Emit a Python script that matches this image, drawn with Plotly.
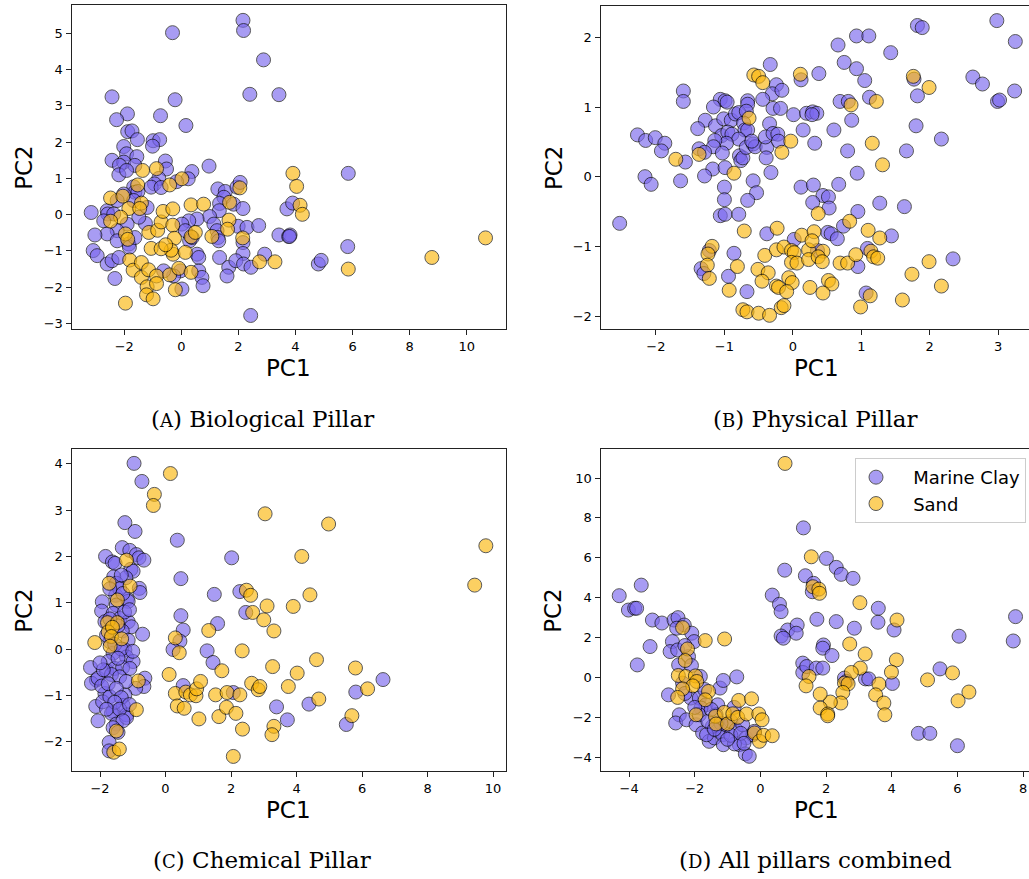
import plotly.graph_objects as go

# ---------------- data (PC1, PC2) ----------------
bio_clay = [(2.16,5.36),(2.18,5.08),(-0.31,5.02),(2.88,4.27),(-2.43,3.25),(2.40,3.32),(3.42,3.31),(-0.22,3.17),(-1.89,2.78),(-2.27,2.62),(-0.73,2.73),(0.16,2.46),(-1.88,2.29),(-1.73,2.31),(-1.54,2.07),(-0.99,2.04),(-0.76,2.07),(-1.01,1.89),(-2.02,1.88),(-1.92,1.68),(-1.56,1.60),(-2.43,1.50),(-2.02,1.45),(-2.17,1.36),(-1.63,1.36),(-0.56,1.48),(-0.52,1.26),(-2.19,1.10),(-1.92,1.22),(0.97,1.34),(0.37,1.19),(0.24,0.99),(-0.79,1.00),(-0.94,0.85),(-1.06,0.76),(-0.71,0.75),(-0.17,0.91),(-1.67,0.77),(-1.63,0.62),(-1.52,0.64),(-2.02,0.57),(-2.25,0.39),(-2.60,0.11),(-2.58,0.02),(-2.37,0.02),(-2.72,-0.17),(-3.16,0.06),
            (1.28,0.71),(1.54,0.64),(1.49,0.48),(1.34,0.31),(1.33,0.11),(0.99,-0.05),(1.14,-0.26),(1.25,-0.44),(1.28,-0.63),(1.31,-0.72),(1.34,-1.18),(1.66,-1.45),(1.60,-1.69),(1.95,0.76),(2.06,0.89),(1.83,0.29),(2.16,0.17),(1.99,-0.32),(2.30,-0.35),(2.71,-0.30),(2.16,-0.77),(2.16,-1.07),(1.91,-1.27),(2.18,-1.36),(2.44,-1.45),(2.92,-1.09),(3.42,-0.56),(3.70,0.16),(3.76,-0.60),(2.43,-2.78),(0.55,-0.12),(0.26,-0.17),(0.02,-0.26),(0.14,-0.44),(0.29,-0.72),(0.38,-0.63),(0.55,-1.09),(0.61,-1.18),(0.61,-1.55),(0.72,-1.73),(0.76,-1.96),(0.02,-2.05),(-0.03,-1.55),(-0.27,-1.69),(-0.62,-1.55),(-1.26,-0.24),(-1.49,-0.07),(-1.90,-0.26),(-2.25,-0.44),(-2.60,-0.53),(-3.03,-0.56),(-3.09,-0.99),(-2.95,-1.13),(-2.60,-1.36),(-2.43,-1.27),(-2.19,-1.18),(-2.33,-1.76),(-1.84,-0.81),(-1.82,-0.90),(-2.25,-0.72),(-1.67,0.39),(-1.63,-0.63),(-1.20,0.20),
            (3.90,0.32),(3.81,-0.56),(3.79,-0.60),(5.85,1.14),(5.83,-0.88),(4.80,-1.36),(4.90,-1.26)]
bio_sand = [(-1.36,1.22),(-0.87,1.27),(-0.41,0.82),(0.02,0.99),(-1.53,0.82),(-2.48,0.46),(-2.05,0.51),(-1.40,0.32),(-1.84,0.17),(-1.46,0.17),(-2.13,-0.07),(-2.48,-0.18),(-1.96,-0.53),(-1.88,-0.68),(-1.14,-0.49),(-0.83,-0.43),(-0.71,-0.20),(-0.64,0.09),(-0.30,0.16),(0.34,0.27),(0.78,0.29),(1.69,0.34),(2.05,0.74),(1.67,-0.15),(1.62,-0.40),(1.07,-0.60),(0.34,-0.61),(0.49,-0.49),(-0.30,-0.29),(-0.24,-0.65),(-0.29,-1.09),(-0.36,-0.98),(0.14,-1.04),(-1.06,-0.93),(-0.71,-0.94),(-0.55,-0.83),(-1.81,-1.25),(-1.69,-1.53),(-1.40,-1.32),(-1.40,-1.73),(-1.15,-1.52),(-0.87,-1.69),(-0.41,-1.66),(-0.09,-1.48),(0.34,-1.59),(-1.20,-1.99),(-0.87,-1.90),(-0.21,-2.07),(-1.22,-2.21),(-0.99,-2.32),(-1.96,-2.44),(2.15,-0.64),(2.74,-1.30),(3.28,-1.30),(3.91,1.14),(4.04,0.78),(4.16,0.26),(4.24,0.01),(5.85,-1.50),(8.78,-1.18),(10.66,-0.64)]

phys_clay = [(-0.33,1.61),(-1.60,1.23),(-1.60,1.08),(0.12,1.39),(-0.24,1.32),(-0.30,1.19),(-0.16,1.24),(-0.44,1.11),(-0.29,0.98),(-0.18,0.98),(0.01,0.89),(0.20,0.91),(0.15,0.67),(-1.06,1.11),(-0.99,1.09),(-0.96,1.07),(-0.66,1.09),(-0.66,1.04),(-1.16,1.00),(-1.28,0.81),(-1.39,0.69),(-1.13,0.73),(-1.01,0.83),(-0.90,0.81),(-0.84,0.90),(-0.79,0.92),(-0.68,0.94),(-0.72,0.77),(-0.70,0.67),(-0.66,0.67),(-1.04,0.59),(-0.95,0.64),(-0.89,0.61),(-0.79,0.54),(-0.97,0.48),(-1.14,0.52),(-1.16,0.43),(-1.37,0.40),(-1.29,0.35),(-1.03,0.34),(-0.78,0.30),(-0.76,0.23),(-0.73,0.27),(-0.68,0.42),(-0.58,0.47),(-0.55,0.43),(-0.60,0.51),(-0.38,0.42),(-0.34,0.76),(-0.40,0.57),(-0.29,0.62),(-0.22,0.61),(-0.21,0.51),(-0.39,0.27),(-0.32,0.06),(-2.27,0.60),(-2.15,0.52),(-2.01,0.56),(-1.87,0.48),(-1.92,0.37),(-1.57,0.21),(-1.17,0.11),(-0.99,0.13),(-1.29,0.01),(-2.16,0.00),(-2.07,-0.11),(-1.64,-0.06),(-1.00,-0.15),(-1.00,-0.33),(-0.58,-0.06),(-0.53,-0.23),(-0.66,-0.34),(-1.06,-0.56),(-0.99,-0.54),(-0.79,-0.54),(-2.53,-0.67),(0.12,-0.15),(-0.38,-0.82),(0.02,-0.90),(-0.86,-1.10),(-1.34,-1.32),(-1.30,-1.39),(-0.94,-1.43),(-0.67,-1.65),(-1.22,-1.06),
             (2.98,2.24),(3.25,1.94),(1.82,2.17),(1.89,2.14),(0.93,2.02),(1.11,2.02),(0.66,1.89),(1.43,1.78),(0.75,1.64),(0.93,1.55),(1.05,1.38),(0.38,1.48),(1.77,1.40),(2.63,1.43),(2.77,1.33),(3.24,1.23),(2.99,1.08),(3.02,1.10),(1.82,1.16),(1.12,1.14),(0.69,1.08),(0.81,1.08),(0.29,0.93),(0.35,0.91),(0.28,0.89),(0.86,0.81),(0.60,0.67),(0.32,0.48),(1.80,0.73),(0.80,0.37),(1.66,0.37),(2.17,0.54),(0.94,0.05),(0.30,-0.12),(0.67,-0.11),(0.44,-0.27),(0.52,-0.29),(0.29,-0.37),(0.53,-0.45),(1.27,-0.38),(1.63,-0.43),(0.95,-0.50),(0.74,-0.71),(0.51,-0.80),(0.56,-0.82),(0.65,-0.89),(1.44,-0.85),(1.09,-1.03),(0.95,-1.29),(2.34,-1.18),(1.07,-1.67),(0.36,-1.06)]
phys_sand = [(-0.57,1.46),(-0.50,1.44),(-0.44,1.35),(0.11,1.47),(-0.64,0.84),(-1.71,0.25),(-1.37,0.32),(-0.86,0.05),(-0.03,0.51),(-0.16,0.35),(-0.71,-0.78),(-0.23,-0.74),(0.13,-0.84),(-1.18,-1.00),(-1.24,-1.11),(-1.25,-1.27),(-1.22,-1.46),(-0.81,-1.29),(-0.41,-1.13),(-0.24,-1.05),(-0.13,-1.01),(-0.02,-1.06),(0.02,-1.09),(-0.02,-1.23),(0.06,-1.24),(-0.51,-1.33),(-0.36,-1.38),(-0.45,-1.50),(-0.93,-1.63),(-0.24,-1.57),(-0.21,-1.59),(-0.06,-1.45),(-0.01,-1.52),(-0.09,-1.65),(-0.73,-1.91),(-0.67,-1.94),(-0.50,-1.96),(-0.34,-1.99),(-0.17,-1.88),(-0.13,-1.85),(0.23,-1.05),(0.23,-1.19),(0.25,-1.59),
             (1.76,1.44),(1.99,1.28),(1.22,1.08),(0.85,1.03),(1.16,0.48),(1.31,0.17),(0.37,-0.53),(0.83,-0.64),(1.10,-0.77),(1.27,-0.88),(0.31,-0.79),(0.28,-0.92),(0.44,-1.07),(0.37,-1.15),(0.43,-1.22),(0.69,-1.24),(0.80,-1.24),(0.92,-1.12),(1.14,-1.07),(1.18,-1.15),(1.24,-1.17),(1.99,-1.22),(1.74,-1.40),(2.17,-1.57),(0.52,-1.49),(0.57,-1.54),(0.44,-1.67),(1.13,-1.71),(1.60,-1.77),(0.99,-1.87)]

chem_clay = [(-0.96,4.01),(-0.72,3.62),(-1.24,2.73),(-0.93,2.54),(0.36,2.35),(-1.32,2.19),(-1.09,2.13),(-0.89,2.04),(-0.81,1.97),(-0.66,1.92),(-1.83,2.00),(-1.62,1.88),(-1.54,1.85),(-1.06,1.72),(-0.99,1.68),(-1.21,1.54),(-1.58,1.56),(-1.50,1.42),(0.47,1.52),(2.02,1.97),(-0.80,1.31),(-0.78,1.22),(-1.52,1.16),(-1.17,1.08),(-1.14,1.03),(-1.93,1.02),(-1.95,0.82),(-1.50,0.95),(-1.60,0.77),(-1.85,0.59),(-1.39,0.66),(-1.14,0.59),(-1.04,0.48),(-0.70,0.32),(-1.70,0.16),(-1.32,0.39),(-1.14,0.19),(-1.60,-0.09),(-1.75,-0.27),(-1.24,-0.02),(-1.19,-0.17),(-0.99,-0.27),(-2.29,-0.40),(-2.11,-0.67),(-2.26,-0.74),(-2.06,-0.63),(-1.80,-0.47),(-1.55,-0.42),(-1.31,-0.40),(-1.09,-0.42),(-0.63,-0.63),(-0.66,-0.81),(-0.91,-0.85),(-1.85,-0.96),(-2.13,-1.24),(-2.06,-1.55),(-1.92,-1.14),(-1.70,-1.03),(-1.60,-1.35),(-1.24,-0.99),(-1.29,-1.22),(-1.19,-1.42),(-1.65,-1.39),(-1.50,-1.62),(-1.19,-1.48),(-1.72,-2.02),(-1.72,-2.20),
             (-1.40,1.30),(-1.30,1.20),(-1.70,1.30),(-1.45,0.50),(-1.25,0.80),(-1.80,0.30),(-1.55,0.10),(-1.35,0.00),(-1.45,-0.20),(-1.65,-0.55),(-1.40,-0.60),(-1.20,-0.70),(-1.95,-0.80),(-1.75,-0.75),(-1.50,-0.85),(-1.35,-1.05),(-1.55,-1.15),(-1.80,-1.30),(-1.40,-1.30),(-1.10,-1.20),(-1.30,-1.55),(-1.60,-1.70),(-1.45,-1.80),(-1.90,-0.45),(-2.00,-0.30),(-1.00,-0.05),(-1.10,0.85),(-1.70,0.65),(-1.35,1.60),
             (1.49,1.18),(2.27,1.24),(1.59,0.55),(0.47,0.72),(0.54,0.41),(0.44,0.17),(0.23,-0.01),(1.27,-0.04),(1.45,-0.29),(2.45,0.79),(0.54,-0.79),(2.07,-0.94),(3.39,-1.25),(3.72,-1.53),(4.38,-1.19),(5.81,-0.93),(6.64,-0.66),(5.52,-1.63)]
chem_sand = [(0.15,3.79),(-0.34,3.34),(-0.37,3.10),(3.04,2.92),(-1.19,1.92),(-1.72,1.42),(-1.08,1.36),(-1.47,1.06),(-1.77,0.57),(-1.47,0.57),(-1.75,0.37),(-1.62,0.47),(-1.65,0.27),(-1.34,0.22),(-1.69,0.06),(-2.16,0.14),(-0.83,-0.69),(-0.89,-1.31),(-1.50,-1.77),(-1.58,-2.23),(-1.41,-2.16),(0.30,0.24),(0.42,-0.08),(0.11,-0.55),(0.30,-0.96),(0.36,-1.23),(0.57,-1.28),(0.62,-0.93),(0.76,-0.99),(0.93,-1.01),(0.95,-0.86),(1.07,-0.70),(1.02,-1.51),(1.32,0.40),(1.72,-0.47),(1.53,-0.99),(1.63,-1.46),(1.88,-0.94),(1.86,-1.26),(2.15,-1.39),(2.27,-0.99),(2.34,-0.04),(2.35,-1.73),(2.07,-2.32),(2.47,1.27),(2.60,1.16),(2.66,0.79),(3.00,0.63),(3.10,0.93),(3.31,0.39),(3.27,-0.38),(2.63,-0.74),(2.83,-0.88),(2.88,-0.81),(3.31,-1.67),(3.25,-1.85),
             (4.98,2.70),(4.16,2.00),(4.41,1.17),(3.90,0.92),(4.61,-0.23),(4.02,-0.52),(3.75,-0.81),(4.68,-1.08),(5.80,-0.41),(6.17,-0.86),(5.69,-1.44),(9.44,1.38),(9.78,2.23)]

all_clay = [(-4.30,4.10),(-3.63,4.63),(-4.02,3.38),(-3.83,3.47),(-3.77,3.47),(-3.29,2.88),(-3.00,2.73),(-2.63,2.88),(-2.51,3.00),(-2.32,2.63),(-2.55,2.47),(-2.09,2.22),(-2.02,1.80),(-2.68,1.80),(-2.75,1.30),(-2.52,1.38),(-2.19,1.05),(-2.49,0.63),(-3.36,1.55),(-3.75,0.63),(-1.83,0.05),(-2.37,-0.28),(-2.12,-1.03),(-2.80,-0.87),(-2.47,-1.87),(-2.58,-2.28),(-2.25,-2.12),(-1.86,-1.03),(-1.66,-1.37),(-1.81,-1.53),(-1.96,-2.37),(-1.76,-2.78),(-1.56,-3.20),(-1.40,-3.03),(-1.25,-2.70),(-1.15,-2.87),(-1.13,-3.37),(-1.30,-1.37),(-1.23,-0.53),(-1.13,-0.15),(-0.72,0.03),(-1.35,-1.87),(-1.05,-2.37),(-0.90,-2.20),(-0.74,-2.62),(-0.54,-2.37),(-0.44,-3.03),(-0.64,-3.37),(-0.79,-3.33),(-0.46,-3.83),(-0.34,-3.95),(-0.23,-2.87),(-0.18,-2.70),(-1.46,-2.45),(-1.64,-2.87),(-1.86,-1.87),
            (-2.00,-1.50),(-1.60,-2.20),(-1.20,-2.30),(-0.90,-2.90),(-1.00,-3.10),(-1.40,-2.60),(-0.60,-2.80),(-1.70,-0.60),(-2.30,-0.80),(-2.10,0.60),(-2.30,1.60),(-1.50,-1.60),(-0.80,-1.50),(-0.50,-3.30),
            (1.31,7.50),(0.74,5.38),(1.37,5.10),(0.36,4.13),(0.58,3.67),(0.63,3.30),(0.83,2.38),(1.12,2.63),(1.09,2.22),(0.63,2.08),(0.70,1.97),(1.29,0.72),(1.29,0.25),
            (2.01,5.97),(2.31,5.52),(2.46,5.17),(2.82,4.97),(1.62,4.72),(1.58,4.30),(3.59,3.47),(1.72,2.92),(2.31,2.80),(2.86,2.47),(3.58,2.77),(4.07,2.38),(1.92,1.63),(1.90,1.47),(2.18,1.10),(1.41,0.55),(1.70,0.47),(1.90,0.47),(2.56,-0.03),(2.62,-0.20),(3.20,-0.07),(3.30,-0.07),(4.02,-0.30),(5.47,0.43),(6.05,2.07),(7.77,3.05),(7.70,1.83),(4.81,-2.80),(5.16,-2.80),(6.00,-3.42)]
all_sand = [(0.75,10.73),(1.55,6.05),(-2.37,2.50),(-1.68,1.85),(-1.09,1.93),(-2.22,1.43),(-2.29,0.85),(-2.50,0.10),(-2.27,0.05),(-1.98,0.08),(-1.94,-0.20),(-2.06,-0.42),(-2.37,-0.57),(-2.52,-1.00),(-1.58,-0.70),(-1.68,-1.12),(-1.96,-1.87),(-1.37,-1.95),(-1.35,-2.33),(-1.10,-1.75),(-1.00,-2.33),(-0.84,-1.82),(-0.69,-2.00),(-0.66,-1.15),(-0.42,-1.83),(-0.27,-1.07),(-0.05,-1.83),(0.05,-2.12),(-0.18,-2.78),(-0.03,-3.20),(0.10,-2.90),(0.36,-2.92),(1.48,0.05),(1.39,-0.42),
            (1.60,4.55),(1.78,4.43),(1.80,4.22),(3.03,3.75),(4.16,2.88),(2.72,1.68),(3.19,1.18),(4.14,0.88),(3.04,0.47),(2.77,0.25),(2.56,-0.28),(2.67,-0.32),(2.51,-0.75),(3.99,0.27),(3.61,-0.33),(3.51,-0.87),(3.76,-1.28),(3.79,-1.87),(2.45,-1.28),(2.13,-1.23),(1.82,-0.83),(1.82,-1.53),(2.05,-1.83),(2.05,-1.92),(5.09,-0.12),(5.85,0.23),(6.35,-0.73),(6.02,-1.17)]

captions = ["(<span style='font-size:18px'>A</span>) Biological Pillar",
            "(<span style='font-size:18px'>B</span>) Physical Pillar",
            "(<span style='font-size:18px'>C</span>) Chemical Pillar",
            "(<span style='font-size:18px'>D</span>) All pillars combined"]
series_names = ["Marine Clay", "Sand"]

# ---------------- layout constants ----------------
W, H = 1029, 879
CLAY_COLOR = "#7B68EE"
SAND_COLOR = "#FBB70F"
FONT = "DejaVu Sans"

def px(x):
    return x / W

def py(y):
    return 1 - y / H

panels = [
    dict(clay=bio_clay, sand=bio_sand, xd=(71.5, 505.5), yd=(5.5, 330), xr=(-3.85, 11.36), yr=(-3.16, 5.77),
         xt=[-2, 0, 2, 4, 6, 8, 10], yt=[-3, -2, -1, 0, 1, 2, 3, 4, 5], right=True),
    dict(clay=phys_clay, sand=phys_sand, xd=(600.5, 1029), yd=(6, 330), xr=(-2.81, 3.45), yr=(-2.19, 2.45),
         xt=[-2, -1, 0, 1, 2, 3], yt=[-2, -1, 0, 1, 2], right=False),
    dict(clay=chem_clay, sand=chem_sand, xd=(71.5, 505.5), yd=(450.5, 773), xr=(-2.87, 10.38), yr=(-2.64, 4.31),
         xt=[-2, 0, 2, 4, 6, 8, 10], yt=[-2, -1, 0, 1, 2, 3, 4], right=True),
    dict(clay=all_clay, sand=all_sand, xd=(600.5, 1029), yd=(450.5, 773), xr=(-4.87, 8.18), yr=(-4.7, 11.43),
         xt=[-4, -2, 0, 2, 4, 6, 8], yt=[-4, -2, 0, 2, 4, 6, 8, 10], right=False),
]

def lab(v):
    return str(v).replace("-", "\u2212")

fig = go.Figure()
layout = dict(width=W, height=H, margin=dict(l=0, r=0, t=0, b=0),
              paper_bgcolor="white", plot_bgcolor="white", showlegend=True,
              font=dict(family=FONT, color="black"))
annotations = []

for i, p in enumerate(panels):
    k = "" if i == 0 else str(i + 1)
    xa, ya = "x" + k, "y" + k
    for name, pts, color in ((series_names[0], p["clay"], CLAY_COLOR), (series_names[1], p["sand"], SAND_COLOR)):
        xs, ys = zip(*pts)
        fig.add_trace(go.Scatter(
            x=list(xs), y=list(ys), mode="markers", name="\u00a0\u00a0\u00a0" + name, xaxis=xa, yaxis=ya,
            showlegend=(i == 3),
            marker=dict(size=14, color=color, opacity=0.65, line=dict(color="black", width=1)),
        ))
    axis_common = dict(showline=True, linecolor="#222", linewidth=1, ticks="outside", ticklen=5,
                       tickwidth=1, tickcolor="#222", showgrid=False, zeroline=False,
                       tickfont=dict(size=13, family=FONT, color="black"))
    layout["xaxis" + k] = dict(axis_common, domain=[px(p["xd"][0]), px(p["xd"][1])], range=list(p["xr"]),
                               anchor=ya, mirror=True, tickvals=p["xt"], ticktext=[lab(v) for v in p["xt"]])
    layout["yaxis" + k] = dict(axis_common, domain=[py(p["yd"][1]), py(p["yd"][0])], range=list(p["yr"]),
                               anchor=xa, mirror=p["right"], tickvals=p["yt"], ticktext=[lab(v) for v in p["yt"]])

    cx = (p["xd"][0] + p["xd"][1]) / 2 + (2 if not p["right"] else 0)
    cy = (p["yd"][0] + p["yd"][1]) / 2
    annotations.append(dict(text="PC1", x=px(cx), y=py(p["yd"][1] + 39), xref="paper", yref="paper",
                            showarrow=False, font=dict(size=23, family=FONT), xanchor="center", yanchor="middle"))
    annotations.append(dict(text="PC2", x=px(p["xd"][0] - 47), y=py(cy), xref="paper", yref="paper",
                            showarrow=False, textangle=-90, font=dict(size=23, family=FONT),
                            xanchor="center", yanchor="middle"))
    capx = 262 if p["right"] else 815
    capy = 420 if i < 2 else 862
    annotations.append(dict(text=captions[i], x=px(capx), y=py(capy), xref="paper", yref="paper",
                            showarrow=False, font=dict(size=23, family="DejaVu Serif"),
                            xanchor="center", yanchor="middle"))

layout["annotations"] = annotations
layout["legend"] = dict(x=px(1026), y=py(459), xanchor="right", yanchor="top",
                        bgcolor="white", bordercolor="#cccccc", borderwidth=1,
                        font=dict(size=18, family=FONT), tracegroupgap=0)
fig.update_layout(**layout)
fig.write_html("out.html")
